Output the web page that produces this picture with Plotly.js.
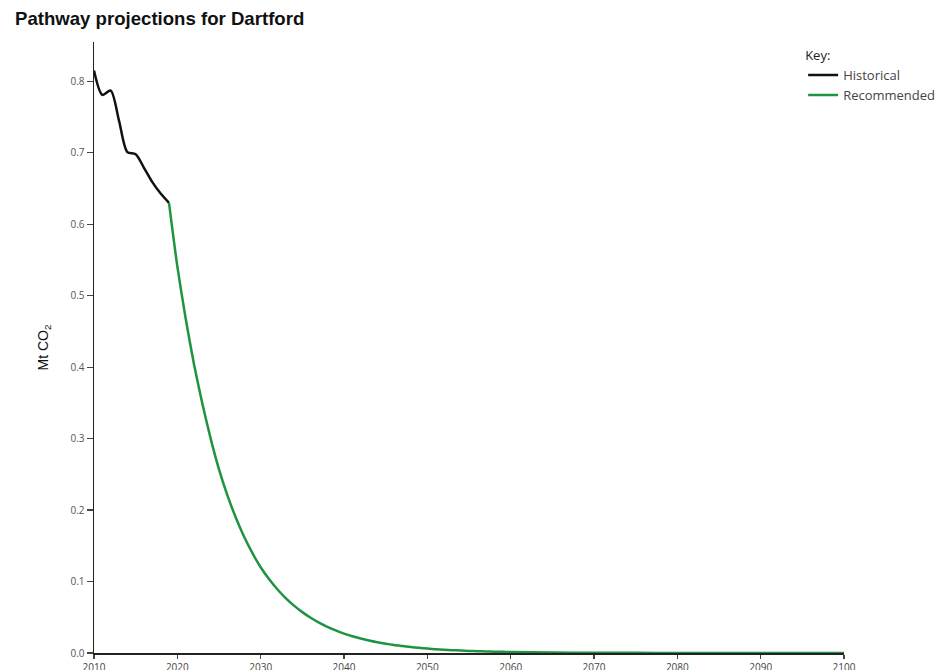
<!DOCTYPE html>
<html>
<head>
<meta charset="utf-8">
<script src="https://cdn.plot.ly/plotly-3.0.1.min.js"></script>
<style>
html,body{margin:0;padding:0;background:#fff;}
#chart{width:952px;height:670px;}
</style>
</head>
<body>
<div id="chart"></div>
<script>
// Historical emissions (Mt CO2)
const histYears = [2010, 2011, 2012, 2013, 2014, 2015, 2016, 2017, 2018, 2019];
const histValues = [0.815, 0.781, 0.787, 0.745, 0.701, 0.698, 0.679, 0.659, 0.643, 0.630];

// Recommended pathway (Mt CO2)
const recYears = [2019, 2020, 2021, 2022, 2023, 2024, 2025, 2026, 2027, 2028, 2029,
  2030, 2031, 2032, 2033, 2034, 2035, 2036, 2037, 2038, 2039,
  2040, 2041, 2042, 2043, 2044, 2045, 2046, 2047, 2048, 2049,
  2050, 2051, 2052, 2053, 2054, 2055, 2056, 2057, 2058, 2059,
  2060, 2065, 2070, 2075, 2080, 2085, 2090, 2095, 2100];
const recValues = [0.630, 0.541, 0.468, 0.404, 0.349, 0.300, 0.257, 0.221, 0.190, 0.163, 0.140,
  0.1200, 0.1035, 0.0892, 0.0769, 0.0663, 0.0572, 0.0493, 0.0425, 0.0366, 0.0316,
  0.0272, 0.0235, 0.0203, 0.0175, 0.0151, 0.0130, 0.0112, 0.0097, 0.0083, 0.0072,
  0.0062, 0.0053, 0.0046, 0.0040, 0.0034, 0.0029, 0.0025, 0.0022, 0.0019, 0.0016,
  0.0014, 0.0007, 0.0003, 0.0002, 0.0001, 0.0001, 0.0, 0.0, 0.0];

const xTicks = [2010, 2020, 2030, 2040, 2050, 2060, 2070, 2080, 2090, 2100];
const yTicks = [0.0, 0.1, 0.2, 0.3, 0.4, 0.5, 0.6, 0.7, 0.8];

const traces = [
  {
    x: histYears, y: histValues, type: 'scatter', mode: 'lines', name: 'Historical',
    line: {color: '#111111', width: 2.5, shape: 'spline', smoothing: 0.8}
  },
  {
    x: recYears, y: recValues, type: 'scatter', mode: 'lines', name: 'Recommended',
    line: {color: '#1f9440', width: 2.5, shape: 'spline', smoothing: 0.6}
  }
];

const layout = {
  width: 952, height: 670,
  paper_bgcolor: '#ffffff', plot_bgcolor: '#ffffff',
  margin: {l: 94, r: 105, t: 42, b: 17, pad: 0},
  title: {
    text: '<b>Pathway projections for Dartford</b>',
    font: {family: 'Liberation Sans, Arial, sans-serif', size: 18.6, color: '#111'},
    x: 15 / 952, xref: 'container', xanchor: 'left',
    y: 1 - 18 / 670, yref: 'container', yanchor: 'middle'
  },
  showlegend: true,
  legend: {
    title: {text: 'Key:', font: {family: 'Open Sans, sans-serif', size: 13, color: '#222'}},
    font: {family: 'Open Sans, sans-serif', size: 13, color: '#444'},
    x: 0.9455, xanchor: 'left', y: 0.998, yanchor: 'top',
    bgcolor: 'rgba(0,0,0,0)', borderwidth: 0, tracegroupgap: 0
  },
  xaxis: {
    range: [2010, 2100], tickvals: xTicks, ticktext: xTicks.map(String),
    showline: true, linecolor: '#222', linewidth: 1.5,
    ticks: 'outside', ticklen: 4, tickwidth: 1.2, tickcolor: '#444',
    showgrid: false, zeroline: false,
    tickfont: {family: 'Open Sans, sans-serif', size: 10, color: '#444'}
  },
  yaxis: {
    range: [0, 0.855], tickvals: yTicks, tickformat: '.1f',
    showline: true, linecolor: '#222', linewidth: 1.5,
    ticks: 'outside', ticklen: 6, tickwidth: 1.2, tickcolor: '#444',
    showgrid: false, zeroline: false,
    tickfont: {family: 'Open Sans, sans-serif', size: 10, color: '#555'},
    title: {text: 'Mt CO<sub>2</sub>', standoff: 18,
      font: {family: 'Liberation Sans, Arial, sans-serif', size: 14, color: '#111'}}
  }
};

Plotly.newPlot('chart', traces, layout, {displayModeBar: false, staticPlot: true});
</script>
</body>
</html>
